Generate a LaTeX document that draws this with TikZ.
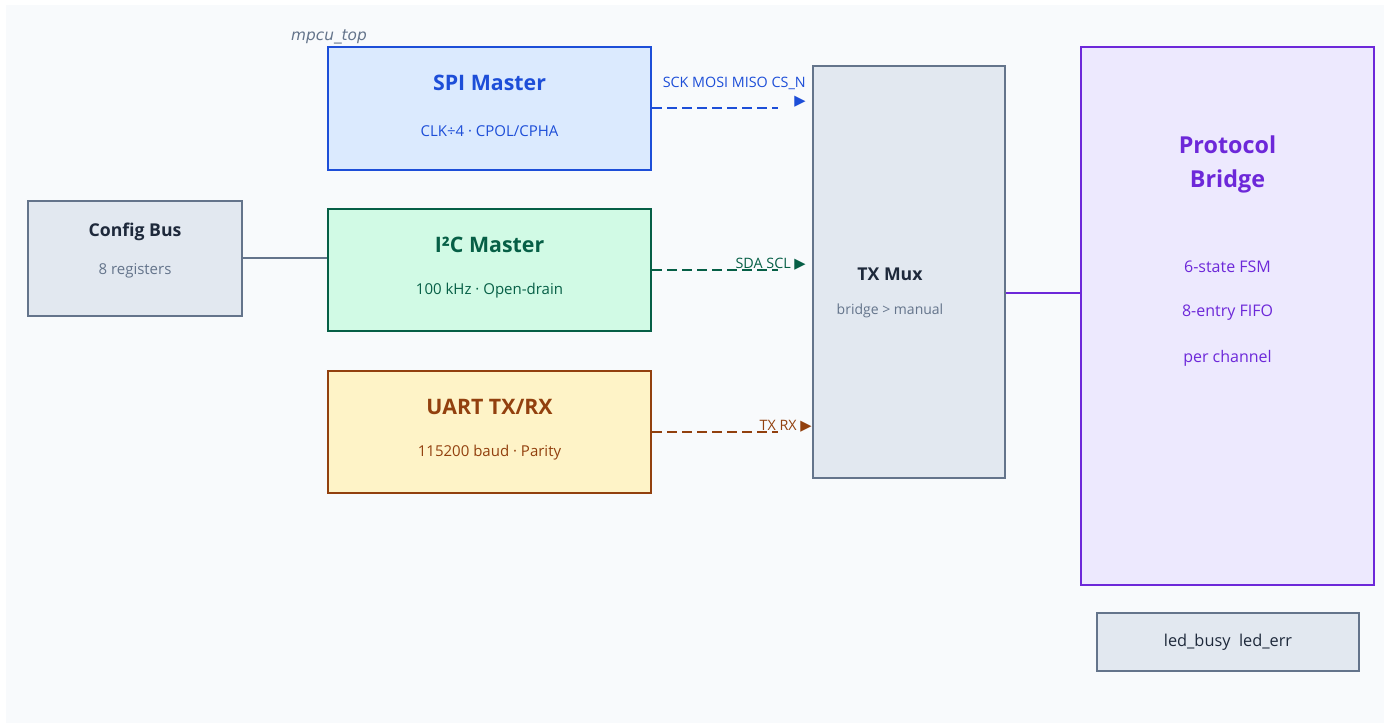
\documentclass[tikz,border=0pt]{standalone}
\usepackage{fontspec}
\setmainfont{Open Sans}
\newfontfamily\glyphfont{DejaVu Sans}
\usetikzlibrary{positioning}
\definecolor{panelbg}{HTML}{F8FAFC}
\definecolor{slatefill}{HTML}{E2E8F0}
\definecolor{slateline}{HTML}{64748B}
\definecolor{slateink}{HTML}{1E293B}
\definecolor{spiblue}{HTML}{1D4ED8}
\definecolor{spifill}{HTML}{DBEAFE}
\definecolor{iicgreen}{HTML}{065F46}
\definecolor{iicfill}{HTML}{D1FAE5}
\definecolor{uartbrown}{HTML}{92400E}
\definecolor{uartfill}{HTML}{FEF3C7}
\definecolor{bridgepurple}{HTML}{6D28D9}
\definecolor{bridgefill}{HTML}{EDE9FE}
\tikzset{
  blockbox/.style={rectangle, line width=1.5pt, inner sep=0pt},
  slatebox/.style={blockbox, draw=slateline, fill=slatefill},
  spibox/.style={blockbox, draw=spiblue, fill=spifill},
  iicbox/.style={blockbox, draw=iicgreen, fill=iicfill},
  uartbox/.style={blockbox, draw=uartbrown, fill=uartfill},
  bridgebox/.style={blockbox, draw=bridgepurple, fill=bridgefill},
  btitle/.style={font=\fontsize{16}{19}\selectfont\bfseries, inner sep=0pt},
  stitle/.style={font=\fontsize{13.25}{16}\selectfont\bfseries, inner sep=0pt},
  bsub/.style={font=\fontsize{11.25}{13}\selectfont, inner sep=0pt},
  siglabel/.style={font=\fontsize{10.75}{13.5}\selectfont, inner sep=0pt, align=right},
  sigline/.style={line width=1.5pt, dash pattern=on 7.5pt off 3.75pt},
  wire/.style={line width=1.5pt},
}
\newcommand{\tri}{{\glyphfont\fontsize{11}{11}\selectfont\char"25B6}}

\begin{document}
\begin{tikzpicture}[x=0.75pt, y=-0.75pt]
  \useasboundingbox[fill=white] (0,0) rectangle (1384,723);
  \fill[panelbg] (6,5) rectangle (1384,723);

  \node[font=\glyphfont\fontsize{11.5}{13}\selectfont\itshape, text=slateline, inner sep=0pt] (toplabel) at (329,37) {mpcu\_top};

  % protocol engines
  \node[spibox,  minimum width=242.25pt, minimum height=92.25pt] (spi)  at (489.5,108.5) {};
  \node[iicbox,  minimum width=242.25pt, minimum height=91.5pt]  (iic)  at (489.5,270) {};
  \node[uartbox, minimum width=242.25pt, minimum height=91.5pt]  (uart) at (489.5,432) {};
  \node[btitle, text=spiblue]   (spititle)  at (489.5,83)  {SPI Master};
  \node[bsub,   text=spiblue]   (spisub)    at (489.5,131) {CLK÷4 · CPOL/CPHA};
  \node[btitle, text=iicgreen]  (iictitle)  at (489.5,245) {I²C Master};
  \node[bsub,   text=iicgreen]  (iicsub)    at (489.5,291) {100 kHz · Open-drain};
  \node[btitle, text=uartbrown] (uarttitle) at (489.5,407) {UART TX/RX};
  \node[bsub,   text=uartbrown] (uartsub)   at (489.5,453) {115200 baud · Parity};

  % register file
  \node[slatebox, minimum width=160.5pt, minimum height=86.25pt] (cfg) at (135,258.5) {};
  \node[stitle, text=slateink]  (cfgtitle) at (135,232) {Config Bus};
  \node[bsub,   text=slateline] (cfgsub)   at (135,271) {8 registers};

  % mux
  \node[slatebox, minimum width=144pt, minimum height=309pt] (mux) at (909,272) {};
  \node[stitle, text=slateink]  (muxtitle) at (890,274) {TX Mux};
  \node[bsub,   text=slateline, font=\fontsize{10.5}{12}\selectfont] (muxsub) at (890,311) {bridge > manual};

  % bridge
  \node[bridgebox, minimum width=219.75pt, minimum height=403.5pt] (bridge) at (1227.5,316) {};
  \node[font=\fontsize{17.5}{25.5}\selectfont\bfseries, text=bridgepurple, align=center, inner sep=0pt]
    (bridgetitle) at (1227.5,164) {Protocol\\Bridge};
  \foreach \y/\txt in {267/6-state FSM, 313/8-entry FIFO, 358/per channel}
    \node[bsub, text=bridgepurple, font=\fontsize{12}{14}\selectfont] at (1227.5,\y) {\txt};

  % status leds
  \node[slatebox, minimum width=196.5pt, minimum height=43.5pt, font=\fontsize{12.25}{14}\selectfont, text=slateink]
    (leds) at (1228,642) {led\_busy\ \ led\_err};

  % connections
  \draw[wire, slateline] (cfg.east) -- (cfg.east -| iic.west);
  \coordinate (muxout) at ([yshift=-15.75pt]mux.east);
  \draw[wire, bridgepurple] (muxout) -- (muxout -| bridge.west);

  \coordinate (sigend) at (778,0);
  \draw[sigline, spiblue]   (spi.east)  -- (spi.east -| sigend);
  \draw[sigline, iicgreen]  (iic.east)  -- (iic.east -| sigend);
  \draw[sigline, uartbrown] (uart.east) -- (uart.east -| sigend);

  \node[siglabel, text=spiblue, anchor=north east] (spisig) at (806,77) {SCK MOSI MISO CS\_N\\\tri};
  \node[siglabel, text=iicgreen, anchor=east] (iicsig) at (806,264) {SDA SCL \tri};
  \node[siglabel, text=uartbrown, anchor=east] (uartsig) at (812,426) {TX RX \tri};
\end{tikzpicture}
\end{document}
